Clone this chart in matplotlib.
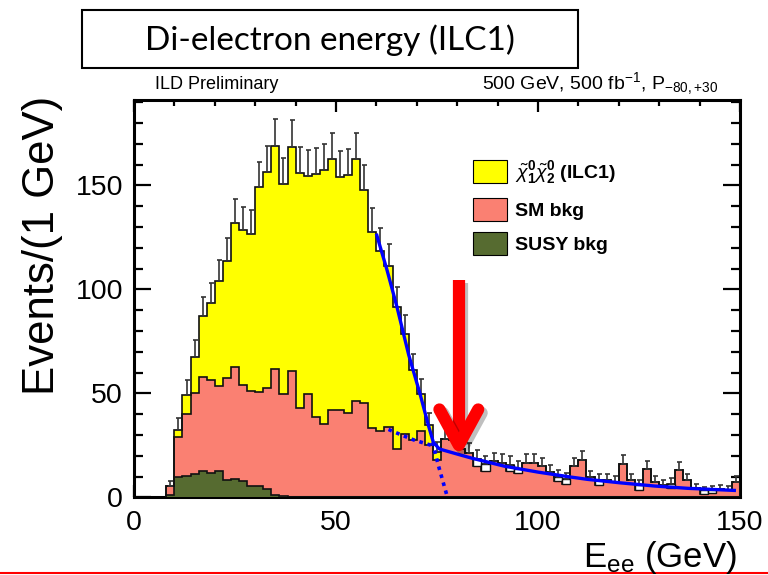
import numpy as np
import matplotlib
matplotlib.use('Agg')
import matplotlib.pyplot as plt
import matplotlib.patheffects as pe
from matplotlib.patches import Patch, Rectangle
from matplotlib.lines import Line2D
from matplotlib.ticker import MultipleLocator

plt.rcParams['font.family'] = ['Liberation Sans', 'DejaVu Sans']
plt.rcParams['mathtext.fontset'] = 'custom'
plt.rcParams['mathtext.rm'] = 'Liberation Sans'
plt.rcParams['mathtext.it'] = 'Liberation Sans:italic'
plt.rcParams['mathtext.bf'] = 'Liberation Sans:bold'

# 2 GeV bins from 8 to 150 GeV
edges = np.arange(8, 152, 2)

# stacked tops (events per bin)
susy_bkg = [1.0, 9.8, 10.2, 11.2, 12.8, 12.0, 12.8, 8.3, 9.1, 8.0, 5.3, 5.6,
            4.0, 1.3, 0.6, 0.3, 0.4, 0.2] + [0.0] * 53

sm_top = [5.6, 29.3, 39.9, 50.3, 57.8, 56.6, 53.7, 57.4, 62.7, 54.2, 51.4, 50.5,
          52.7, 61.9, 49.5, 60.6, 43.0, 49.9, 38.8, 35.1, 42.1, 42.1, 40.7, 46.3,
          45.4, 33.6, 31.8, 33.8, 23.5, 30.7, 27.4, 31.9, 25.3, 18.1, 28.2, 27.5,
          23.2, 21.6, 15.3, 12.9, 17.3, 16.6, 12.9, 11.7, 16.6, 16.6, 15.3, 12.2,
          7.7, 6.3, 14.9, 18.1, 9.8, 6.1, 8.2, 7.4, 16.2, 8.2, 3.7, 13.8,
          7.4, 5.8, 4.6, 13.3, 8.5, 4.6, 1.8, 2.1, 4.2, 3.7, 7.4]

# signal on top (bins 8..76 GeV)
sig_top = [5.6, 32.5, 49.4, 67.5, 87.0, 93.5, 103.8, 113.8, 132.1, 128.5, 126.8,
           149.2, 156.5, 168.8, 150.8, 168.3, 155.9, 154.5, 155.5, 157.2, 162.5,
           154.0, 155.0, 162.5, 147.8, 127.8, 118.5, 111.3, 91.5, 78.7, 61.2,
           49.8, 34.6, 22.0]

# small open boxes in the tail (left bin edge, top)
box_bins = [84, 86, 92, 94, 104, 106, 114, 124, 132, 140, 142]
box_top = [18.6, 16.1, 15.7, 13.8, 10.0, 8.9, 8.2, 5.8, 6.6, 3.4, 3.7]

err_up = [2.4, 5.7, 7.0, 8.2, 9.3, 9.7, 10.2, 10.7, 11.5, 11.3, 11.3, 12.2,
          12.5, 13.0, 12.3, 13.0, 12.5, 12.4, 12.5, 12.5, 12.7, 12.4, 12.4, 12.7,
          12.2, 11.3, 10.9, 10.5, 9.6, 8.9, 7.8, 7.1, 5.9, 4.7, 5.3, 5.2,
          4.8, 4.6, 4.3, 4.0, 4.2, 4.1, 4.0, 3.7, 4.1, 4.1, 3.9, 3.5,
          3.2, 3.0, 3.9, 4.3, 3.1, 2.9, 2.9, 2.7, 4.0, 2.9, 2.4, 3.7,
          2.7, 2.4, 2.6, 3.6, 2.9, 2.1, 1.8, 1.9, 2.0, 1.9, 2.7]

# fitted edge (solid) and its two pieces continued (dotted)
fit_x = [60.1, 62.6, 65.1, 68.0, 70.8, 72.9, 74.1, 75.6, 80.3, 83.6, 91.8,
         100.0, 108.2, 112.3, 120.6, 128.9, 137.1, 148.6]
fit_y = [126.0, 109.5, 91.5, 68.5, 49.8, 34.5, 26.5, 23.3, 20.7, 18.9, 15.0,
         12.2, 9.8, 8.7, 7.0, 5.5, 4.4, 3.4]
bkg_x = [63.0, 66.0, 69.2, 73.7]
bkg_y = [32.7, 30.2, 27.7, 25.0]
edge_x = [73.9, 75.4, 77.6]
edge_y = [26.5, 15.0, 0.0]

YELLOW = '#ffff00'
SALMON = '#fa8072'
GREEN = '#566b30'
BLUE = '#0000ff'


def outlineTop():
    top = np.array(sm_top, float)
    top[:len(sig_top)] = sig_top
    for b, t in zip(box_bins, box_top):
        top[(b - 8) // 2] = t
    return top


def drawStack(ax):
    n = len(sig_top)
    ax.stairs(sig_top, edges[:n + 1], fill=True, color=YELLOW, lw=0, zorder=1)
    ax.stairs(sm_top, edges, fill=True, color=SALMON, lw=0, zorder=2)
    ax.stairs(susy_bkg, edges, fill=True, color=GREEN, lw=0, zorder=3)

    top = outlineTop()
    ax.stairs(top, edges, color='#111111', lw=1.2, zorder=4)
    ax.stairs(sm_top, edges, color='#111111', lw=1.2, zorder=4)
    ax.stairs(susy_bkg, edges, color='#111111', lw=1.2, zorder=4)

    # open boxes above the salmon fill
    sm = np.array(sm_top)
    idx = [(b - 8) // 2 for b in box_bins]
    ax.bar(box_bins, np.array(box_top) - sm[idx], bottom=sm[idx], width=2,
           align='edge', color='white', edgecolor='#111111', lw=1.0, zorder=4)

    centers = (edges[:-1] + edges[1:]) / 2
    ax.errorbar(centers, top, yerr=[np.zeros(len(top)), err_up], fmt='none',
                ecolor='#333333', elinewidth=1.2, capsize=1.8, capthick=1.2,
                zorder=5)


def drawFit(ax):
    ax.plot(fit_x, fit_y, color=BLUE, lw=2.4, zorder=6)
    ax.plot(bkg_x, bkg_y, color=BLUE, lw=2.6, ls=(0, (1, 1.3)), zorder=6)
    ax.plot(edge_x, edge_y, color=BLUE, lw=2.6, ls=(0, (1, 1.3)), zorder=6)


def drawArrow(ax):
    shadow = [pe.SimpleLineShadow(offset=(2.5, -2.5), shadow_color='k', alpha=0.25),
              pe.Normal()]
    ax.plot([80.4, 80.4], [104.5, 27.0], color='red', lw=8.8,
            solid_capstyle='butt', path_effects=shadow, zorder=7)
    ax.plot([75.6, 80.4, 85.2], [42.3, 25.2, 42.3], color='red', lw=8.8,
            solid_capstyle='round', solid_joinstyle='round',
            path_effects=shadow, zorder=7)


def run():
    fig = plt.figure(figsize=(7.68, 5.75), dpi=100)
    ax = fig.add_axes([0.1745, 0.1348, 0.789, 0.6913])

    drawStack(ax)
    drawFit(ax)
    drawArrow(ax)

    ax.set_xlim(0, 150)
    ax.set_ylim(0, 191)
    ax.xaxis.set_major_locator(MultipleLocator(50))
    ax.xaxis.set_minor_locator(MultipleLocator(10))
    ax.yaxis.set_major_locator(MultipleLocator(50))
    ax.yaxis.set_minor_locator(MultipleLocator(10))
    ax.tick_params(which='both', direction='in', top=True, right=True,
                   width=1.6, labelsize=20.5)
    ax.tick_params(axis='y', which='major', length=12.5, pad=8)
    ax.tick_params(axis='y', which='minor', length=6.5)
    ax.tick_params(axis='x', which='major', length=8.5, pad=9)
    ax.tick_params(axis='x', which='minor', length=4.5)
    for s in ax.spines.values():
        s.set_linewidth(2.2)

    handles = [Patch(fc=YELLOW, ec='k', lw=0.8,
                     label=r'$\tilde{\chi}^{\mathbf{0}}_{\mathbf{1}}\tilde{\chi}^{\mathbf{0}}_{\mathbf{2}}$ (ILC1)'),
               Patch(fc=SALMON, ec='k', lw=0.8, label='SM bkg'),
               Patch(fc=GREEN, ec='k', lw=0.8, label='SUSY bkg')]
    ax.legend(handles=handles, loc='upper left',
              bbox_to_anchor=(473 / 768, 1 - 159 / 575),
              bbox_transform=fig.transFigure, frameon=False,
              prop={'weight': 'bold', 'size': 14}, handlelength=1.75,
              handleheight=1.45, handletextpad=0.4, labelspacing=0.6,
              borderpad=0, borderaxespad=0)

    fig.text(0.0547, 1 - 96 / 575, 'Events/(1 GeV)', rotation=90,
             ha='center', va='top', fontsize=31.5)
    fig.text(737 / 768, 1 - 567 / 575, r'E$_{\rm ee}$ (GeV)', ha='right',
             va='baseline', fontsize=25)

    fig.text(155 / 768, 1 - 89 / 575, 'ILD Preliminary', fontsize=13,
             va='baseline')
    fig.text(482 / 768, 1 - 89 / 575, r'500 GeV, 500 fb$^{-1}$, P$_{-80,{+}30}$',
             fontsize=14, va='baseline')

    # title box
    fig.add_artist(Rectangle((82 / 768, 1 - 68 / 575), 496 / 768, 58 / 575,
                             transform=fig.transFigure, fill=False, lw=1.5,
                             ec='k'))
    fig.text(330 / 768, 1 - 40 / 575, 'Di-electron energy (ILC1)', ha='center',
             va='center', fontsize=24, family=['Lato', 'DejaVu Sans'])

    fig.add_artist(Line2D([0, 1], [0.0043, 0.0043], transform=fig.transFigure,
                          color='red', lw=1.5))

    fig.savefig('out.png', dpi=100)


if __name__ == '__main__':
    run()
